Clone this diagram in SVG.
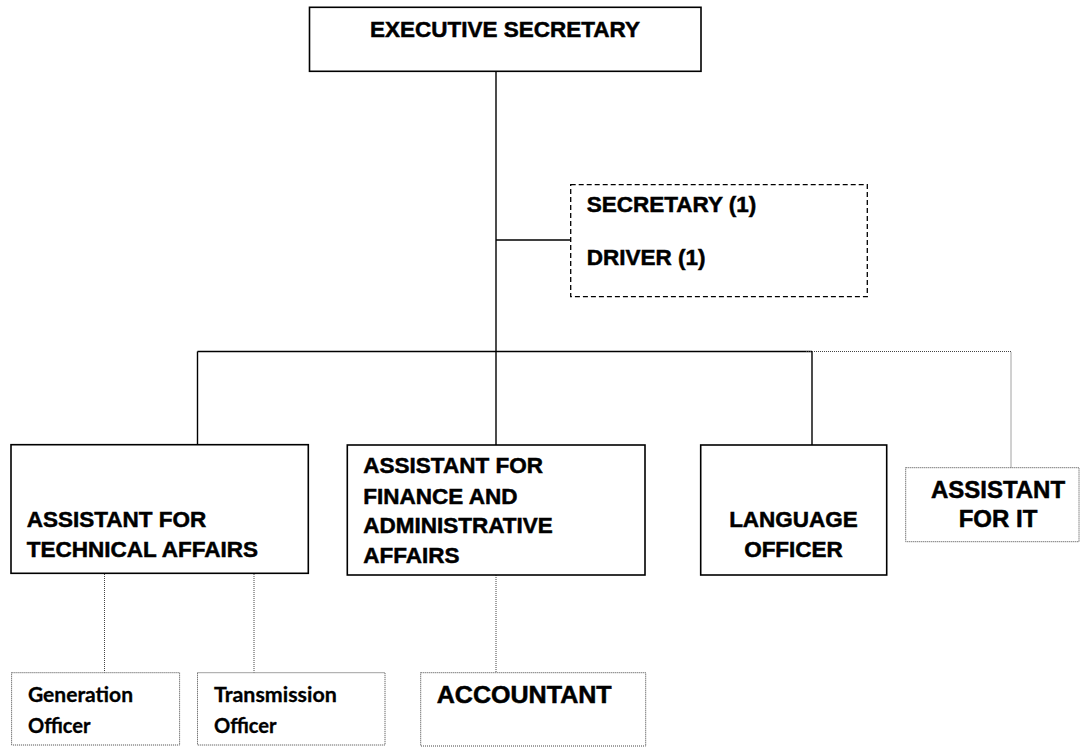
<svg xmlns="http://www.w3.org/2000/svg" width="1085" height="747" viewBox="0 0 1085 747">
<style>
.box{fill:#fff;stroke:#000;stroke-width:1.6}
.dash{fill:#fff;stroke:#000;stroke-width:1.3;stroke-dasharray:5,3}
.dot{fill:#fff;stroke:#444;stroke-width:1;stroke-dasharray:1,1}
.ln{fill:none;stroke:#000;stroke-width:1.4}
.dl{fill:none;stroke:#444;stroke-width:1;stroke-dasharray:1,1}
.t{font-family:"Liberation Sans",Arial,sans-serif;font-weight:bold;font-size:22.5px;fill:#000;stroke:#000;stroke-width:0.5}
.tl{font-family:"Liberation Sans",Arial,sans-serif;font-weight:bold;font-size:24px;fill:#000;stroke:#000;stroke-width:0.5}
.c{font-family:Lato,"Open Sans",sans-serif;font-weight:bold;font-size:20.5px;fill:#000;stroke:#000;stroke-width:0.3}
</style>
<rect width="1085" height="747" fill="#fff"/>
<g id="connectors">
<path class="ln" d="M496 71.3V351.5M496 240H570.7M197.5 351.5H812M197.5 351.5V445M496 351.5V445M812 351.5V445"/>
<path class="dl" d="M806 351.5H1011V467.7"/>
<path class="dl" d="M104.5 574V672.7M254 574V672.7M496 575V672.7"/>
</g>
<g id="executive-secretary">
<rect class="box" x="309.5" y="7.3" width="391.5" height="64"/>
<text class="t" x="505" y="37" text-anchor="middle">EXECUTIVE SECRETARY</text>
</g>
<g id="secretary-driver">
<rect class="dash" x="570.7" y="184.7" width="296.6" height="112"/>
<text class="t" x="586.7" y="212.3">SECRETARY (1)</text>
<text class="t" x="586.7" y="265">DRIVER (1)</text>
</g>
<g id="technical-affairs">
<rect class="box" x="11" y="444.7" width="297.3" height="128.6"/>
<text class="t" x="26.7" y="527.3">ASSISTANT FOR</text>
<text class="t" x="26.7" y="557.3">TECHNICAL AFFAIRS</text>
</g>
<g id="finance-admin">
<rect class="box" x="347.3" y="445" width="297.7" height="130"/>
<text class="t" x="363.3" y="473.3">ASSISTANT FOR</text>
<text class="t" x="363.3" y="503.5">FINANCE AND</text>
<text class="t" x="363.3" y="533.3">ADMINISTRATIVE</text>
<text class="t" x="363.3" y="562.7">AFFAIRS</text>
</g>
<g id="language-officer">
<rect class="box" x="700.7" y="445" width="186" height="130"/>
<text class="t" x="793.5" y="527.3" text-anchor="middle">LANGUAGE</text>
<text class="t" x="793.5" y="556.7" text-anchor="middle">OFFICER</text>
</g>
<g id="assistant-it">
<rect class="dot" x="905.7" y="467.7" width="173.3" height="74"/>
<text class="tl" x="998" y="498.3" text-anchor="middle">ASSISTANT</text>
<text class="tl" x="998" y="526.7" text-anchor="middle">FOR IT</text>
</g>
<g id="generation-officer">
<rect class="dot" x="11.6" y="672.7" width="168" height="72.3"/>
<text class="c" x="28" y="701.7" textLength="105" lengthAdjust="spacingAndGlyphs">Generation</text>
<text class="c" x="28" y="733" textLength="62.5" lengthAdjust="spacingAndGlyphs">Officer</text>
</g>
<g id="transmission-officer">
<rect class="dot" x="197.5" y="672.7" width="187.5" height="72.3"/>
<text class="c" x="214" y="701.7" textLength="122.8" lengthAdjust="spacingAndGlyphs">Transmission</text>
<text class="c" x="214" y="733" textLength="62.5" lengthAdjust="spacingAndGlyphs">Officer</text>
</g>
<g id="accountant">
<rect class="dot" x="420.7" y="672.7" width="225" height="73.3"/>
<text class="tl" x="436.7" y="703.3" textLength="175" lengthAdjust="spacingAndGlyphs">ACCOUNTANT</text>
</g>
</svg>
